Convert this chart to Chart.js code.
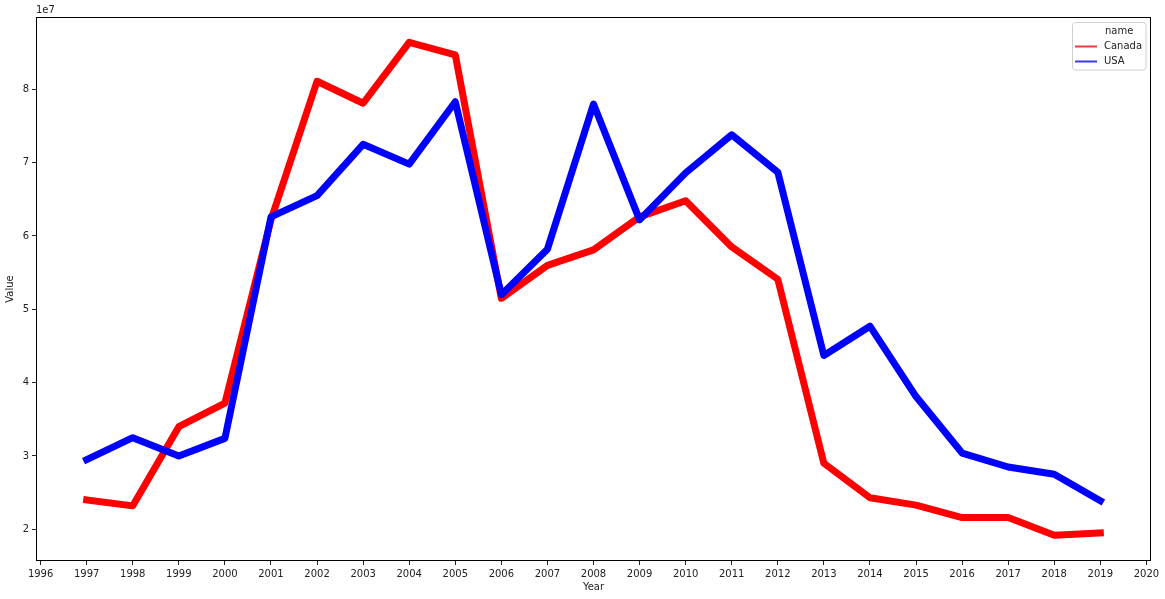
<!DOCTYPE html>
<html>
<head>
<meta charset="utf-8">
<script src="https://cdn.jsdelivr.net/npm/chart.js@4/dist/chart.umd.min.js"></script>
<style>
  html, body { margin: 0; padding: 0; background: #fff; }
  #wrap { width: 1165px; height: 599px; position: relative; }
</style>
</head>
<body>
<div id="wrap"><canvas id="chart"></canvas></div>
<script>
// years on the x axis
const years = [1997, 1998, 1999, 2000, 2001, 2002, 2003, 2004, 2005, 2006, 2007, 2008,
               2009, 2010, 2011, 2012, 2013, 2014, 2015, 2016, 2017, 2018, 2019];

// values (units of 1e7 noted on axis)
const canada = [24000000, 23200000, 34000000, 37200000, 62200000, 81100000, 78100000, 86400000,
                84700000, 51500000, 56000000, 58100000, 62600000, 64800000, 58500000, 54100000,
                29000000, 24300000, 23300000, 21600000, 21600000, 19200000, 19500000];
const usa = [29500000, 32500000, 30000000, 32400000, 62600000, 65500000, 72500000, 69800000,
             78300000, 52000000, 58200000, 78000000, 62200000, 68600000, 73800000, 68700000,
             43700000, 47700000, 38100000, 30400000, 28500000, 27500000, 23900000];

const xTicks = [1996, 1997, 1998, 1999, 2000, 2001, 2002, 2003, 2004, 2005, 2006, 2007, 2008,
                2009, 2010, 2011, 2012, 2013, 2014, 2015, 2016, 2017, 2018, 2019, 2020];
const yTicks = [20000000, 30000000, 40000000, 50000000, 60000000, 70000000, 80000000];

const FONT = 'DejaVu Sans';
const TEXT = '#222';

const toPoints = (vals) => years.map((y, i) => ({ x: y, y: vals[i] }));

// frame, offset text and legend drawn like matplotlib
const mplExtras = {
    id: 'mplExtras',
    afterDraw(chart) {
        const { ctx, chartArea: a } = chart;
        ctx.save();
        ctx.strokeStyle = '#000';
        ctx.lineWidth = 1;
        ctx.strokeRect(Math.round(a.left) + 0.5, Math.round(a.top) + 0.5,
                       Math.round(a.right - a.left) - 1, Math.round(a.bottom - a.top) - 1);

        ctx.fillStyle = TEXT;
        ctx.font = '10px "' + FONT + '"';
        ctx.textBaseline = 'middle';
        ctx.textAlign = 'left';
        ctx.fillText('1e7', a.left, 10);

        // legend
        const bx = 1072.5, by = 22.5, bw = 73.5, bh = 47.5;
        ctx.beginPath();
        ctx.roundRect(bx, by, bw, bh, 3);
        ctx.fillStyle = 'rgba(255,255,255,0.8)';
        ctx.fill();
        ctx.strokeStyle = '#d0d0d0';
        ctx.stroke();

        ctx.fillStyle = TEXT;
        ctx.textAlign = 'left';
        ctx.fillText('name', 1105, 31.5);
        chart.data.datasets.forEach((ds, i) => {
            const y = 46.5 + i * 15;
            ctx.strokeStyle = ds.legendColor;
            ctx.lineWidth = 2;
            ctx.beginPath();
            ctx.moveTo(1075, y);
            ctx.lineTo(1097, y);
            ctx.stroke();
            ctx.fillStyle = TEXT;
            ctx.fillText(ds.label, 1104, y);
        });
        ctx.restore();
    }
};

new Chart(document.getElementById('chart'), {
    type: 'line',
    data: {
        datasets: [
            {
                label: 'Canada',
                data: toPoints(canada),
                borderColor: '#ff0000',
                legendColor: '#ee3b3b',
                borderWidth: 7,
                pointRadius: 0,
                tension: 0,
                borderJoinStyle: 'round',
                borderCapStyle: 'square',
                order: 2
            },
            {
                label: 'USA',
                data: toPoints(usa),
                borderColor: '#0000ff',
                legendColor: '#3b3bee',
                borderWidth: 7,
                pointRadius: 0,
                tension: 0,
                borderJoinStyle: 'round',
                borderCapStyle: 'square',
                order: 1
            }
        ]
    },
    options: {
        responsive: true,
        maintainAspectRatio: false,
        animation: false,
        devicePixelRatio: 1,
        layout: { padding: { left: 0, top: 17, right: 14, bottom: 0 } },
        plugins: {
            legend: { display: false },
            tooltip: { enabled: false }
        },
        scales: {
            x: {
                type: 'linear',
                min: 1995.9,
                max: 2020.1,
                afterBuildTicks: (s) => { s.ticks = xTicks.map(v => ({ value: v })); },
                afterFit: (s) => { s.height = 38; },
                grid: { drawOnChartArea: false, drawTicks: true, tickLength: 4, color: '#222' },
                border: { display: false },
                ticks: {
                    color: TEXT,
                    font: { family: FONT, size: 10 },
                    padding: 3,
                    maxRotation: 0,
                    autoSkip: false,
                    callback: (v) => String(v)
                },
                title: {
                    display: true,
                    text: 'Year',
                    color: TEXT,
                    font: { family: FONT, size: 10 },
                    padding: { top: 0, bottom: 6 }
                }
            },
            y: {
                type: 'linear',
                min: 15680000,
                max: 89860000,
                afterBuildTicks: (s) => { s.ticks = yTicks.map(v => ({ value: v })); },
                afterFit: (s) => { s.width = 36; },
                grid: { drawOnChartArea: false, drawTicks: true, tickLength: 4, color: '#222' },
                border: { display: false },
                ticks: {
                    color: TEXT,
                    font: { family: FONT, size: 10 },
                    padding: 3,
                    callback: (v) => String(Math.round(v / 1e7))
                },
                title: {
                    display: true,
                    text: 'Value',
                    color: TEXT,
                    font: { family: FONT, size: 10 },
                    padding: { top: 4, bottom: 0 }
                }
            }
        }
    },
    plugins: [mplExtras]
});
</script>
</body>
</html>
